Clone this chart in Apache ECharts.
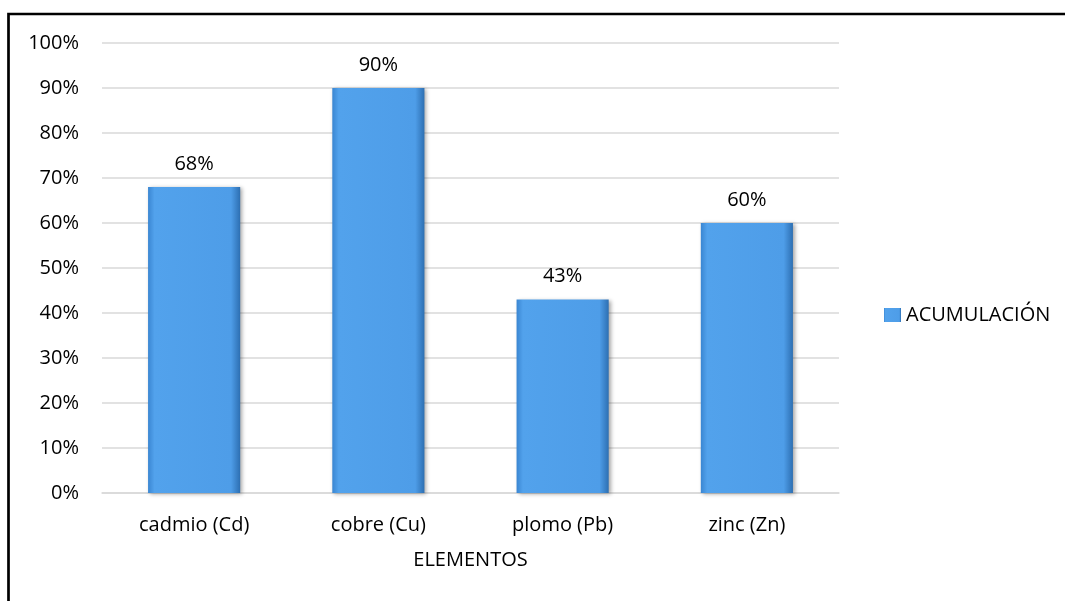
<!DOCTYPE html>
<html>
<head>
<meta charset="utf-8">
<script src="https://cdn.jsdelivr.net/npm/echarts@6/dist/echarts.min.js"></script>
<style>
  html, body { margin: 0; padding: 0; background: #fff; }
  #chart { width: 1065px; height: 601px; }
</style>
</head>
<body>
<div id="chart"></div>
<script>
var categories = ['cadmio (Cd)', 'cobre (Cu)', 'plomo (Pb)', 'zinc (Zn)'];
var acumulacion = [68, 90, 43, 60];
var yTicks = [0, 10, 20, 30, 40, 50, 60, 70, 80, 90, 100];

var font = '"Open Sans", sans-serif';
var chart = echarts.init(document.getElementById('chart'));

// bar fill: darker sides, lighter middle (bevel look)
var barFill = new echarts.graphic.LinearGradient(0, 0, 1, 0, [
  { offset: 0, color: '#3a86d2' },
  { offset: 0.07, color: '#52a2ec' },
  { offset: 0.9, color: '#4e9de8' },
  { offset: 1, color: '#2d6fb2' }
]);

var option = {
  animation: false,
  textStyle: { fontFamily: font },
  graphic: [{
    type: 'rect',
    shape: { x: 8.5, y: 14, width: 2000, height: 2000 },
    style: { fill: 'none', stroke: '#000', lineWidth: 2.7 },
    silent: true
  }],
  grid: { left: 102, right: 226, top: 43, bottom: 108 },
  legend: {
    orient: 'vertical',
    left: 879,
    top: 300,
    itemWidth: 17,
    itemHeight: 14,
    icon: 'rect',
    textStyle: { fontFamily: font, fontSize: 20, color: '#000' },
    data: ['ACUMULACIÓN']
  },
  xAxis: {
    type: 'category',
    data: categories,
    name: 'ELEMENTOS',
    nameLocation: 'middle',
    nameGap: 57,
    nameTextStyle: { fontFamily: font, fontSize: 20, color: '#000', lineHeight: 20 },
    axisLine: { lineStyle: { color: '#d9d9d9', width: 1.5 } },
    axisTick: { show: false },
    axisLabel: { margin: 22, fontSize: 20, lineHeight: 20, color: '#000', fontFamily: font }
  },
  yAxis: {
    type: 'value',
    min: yTicks[0],
    max: yTicks[yTicks.length - 1],
    interval: yTicks[1] - yTicks[0],
    axisLine: { show: false },
    axisTick: { show: false },
    splitLine: { lineStyle: { color: '#d9d9d9', width: 1.5 } },
    axisLabel: {
      margin: 23,
      fontSize: 20,
      color: '#000',
      fontFamily: font,
      formatter: '{value}%'
    }
  },
  series: [{
    name: 'ACUMULACIÓN',
    type: 'bar',
    data: acumulacion,
    barWidth: '50%',
    itemStyle: {
      color: barFill,
      shadowColor: 'rgba(0,0,0,0.35)',
      shadowBlur: 4,
      shadowOffsetX: 2,
      shadowOffsetY: 1
    },
    label: {
      show: true,
      position: 'top',
      distance: 13,
      fontSize: 20,
      lineHeight: 20,
      color: '#000',
      fontFamily: font,
      formatter: '{c}%'
    }
  }]
};

chart.setOption(option);
</script>
</body>
</html>
